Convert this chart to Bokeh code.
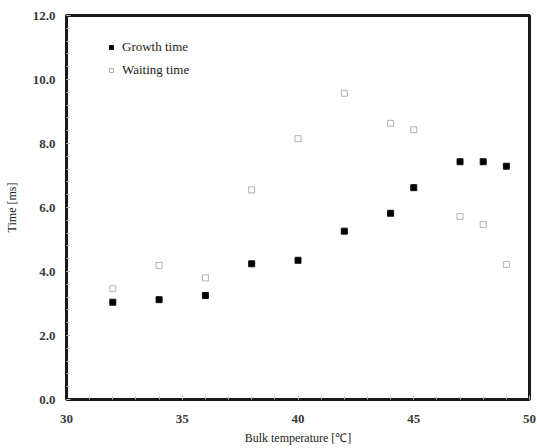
from bokeh.plotting import figure
from bokeh.models import Legend, LegendItem, PrintfTickFormatter, FixedTicker, Range1d
from bokeh.embed import file_html
from bokeh.resources import INLINE

temperature = [32, 34, 36, 38, 40, 42, 44, 45, 47, 48, 49]
growth_time = [3.04, 3.12, 3.25, 4.24, 4.35, 5.26, 5.82, 6.62, 7.43, 7.43, 7.29]
waiting_time = [3.46, 4.19, 3.80, 6.55, 8.15, 9.57, 8.63, 8.43, 5.72, 5.47, 4.22]
x_ticks = [30, 35, 40, 45, 50]
y_ticks = [0, 2, 4, 6, 8, 10, 12]

FONT = "Liberation Serif"

p = figure(width=537, height=448, output_backend="svg", toolbar_location=None,
           x_range=Range1d(30, 50), y_range=Range1d(0, 12),
           min_border_left=66, min_border_right=8, min_border_top=15, min_border_bottom=49)
p.grid.visible = False
p.background_fill_color = "white"
p.border_fill_color = "white"
p.outline_line_color = "#1a1a1a"
p.outline_line_width = 3

for ax in (p.xaxis[0], p.yaxis[0]):
    ax.axis_line_color = "#1a1a1a"
    ax.axis_line_width = 3
    ax.major_tick_in = 4
    ax.major_tick_out = 0
    ax.minor_tick_in = 3
    ax.minor_tick_out = 0
    ax.major_tick_line_color = "#bbbbbb"
    ax.minor_tick_line_color = "#bbbbbb"
    ax.major_label_text_font = FONT
    ax.major_label_text_font_size = "13px"
    ax.major_label_text_font_style = "bold"
    ax.major_label_text_color = "#3a3a3a"
    ax.axis_label_text_font = FONT
    ax.axis_label_text_font_size = "12px"
    ax.axis_label_text_font_style = "normal"
    ax.axis_label_text_color = "#222222"

p.xaxis.ticker = FixedTicker(ticks=x_ticks, minor_ticks=list(range(30, 51)))
p.yaxis.ticker = FixedTicker(ticks=y_ticks, minor_ticks=[i * 0.4 for i in range(31)])
p.yaxis.formatter = PrintfTickFormatter(format="%.1f")
p.xaxis.major_label_standoff = 15
p.yaxis.major_label_standoff = 11
p.xaxis.axis_label = "Bulk temperature [\u2103]"
p.yaxis.axis_label = "Time [ms]"
p.xaxis.axis_label_standoff = 5
p.yaxis.axis_label_standoff = 11

r1 = p.scatter(temperature, growth_time, marker="square", size=6,
               fill_color="#000000", line_color="#111111")
r2 = p.scatter(temperature, waiting_time, marker="square", size=6,
               fill_color="white", line_color="#b0b0b0", line_width=1)

legend = Legend(items=[LegendItem(label="Growth time", renderers=[r1]),
                       LegendItem(label="Waiting time", renderers=[r2])],
                location=(40, 319), padding=0, margin=0, spacing=3,
                glyph_width=10, glyph_height=20, label_standoff=6,
                label_text_font=FONT, label_text_font_size="13px",
                label_text_color="#222222",
                border_line_color=None, background_fill_alpha=0)
p.add_layout(legend, "center")

open("out.html", "w").write(file_html(p, INLINE))
